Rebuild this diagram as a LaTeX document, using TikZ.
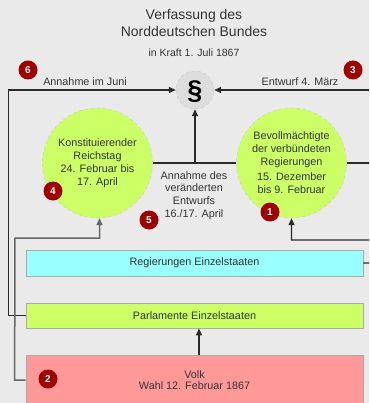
\documentclass[tikz,border=0pt]{standalone}
\usepackage{fontspec}
\setmainfont{Liberation Sans}
\usetikzlibrary{arrows.meta,calc}
\definecolor{bg}{HTML}{EAEAEA}
\definecolor{linec}{HTML}{2A2A2A}
\definecolor{linegray}{HTML}{666666}
\definecolor{txt}{HTML}{333333}
\definecolor{limec}{HTML}{CCFF66}
\definecolor{cyanc}{HTML}{99FFFF}
\definecolor{pinkc}{HTML}{FF9999}
\definecolor{parac}{HTML}{DDDDDD}
\definecolor{numred}{HTML}{A00000}
\definecolor{boxb}{HTML}{AAAAAA}
\begin{document}
\begin{tikzpicture}[x=1pt,y=-1pt,
  conn/.style={draw=linec, line width=1.3pt},
  arr/.style={conn, -{Triangle[length=7pt,width=6pt]}},
  organ/.style={circle, fill=limec, draw=gray!45, dashed, minimum size=110pt, inner sep=0pt,
    align=center, text=txt, font=\fontsize{10.8}{13}\selectfont},
  band/.style={rectangle, fill=#1, draw=boxb, line width=0.8pt, minimum width=337pt, inner sep=0pt,
    text=txt, align=center, font=\fontsize{10.8}{11.5}\selectfont},
  num/.style={circle, fill=numred, text=white, minimum size=19pt, inner sep=0pt,
    font=\fontsize{10}{10}\selectfont\bfseries},
  lbl/.style={text=txt, align=center, inner sep=0pt, font=\fontsize{10.8}{12.6}\selectfont}]
\path[use as bounding box, fill=bg] (0,0) rectangle (369,403);
\clip (0,0) rectangle (369,403);

% title
\node[lbl, anchor=base, font=\fontsize{14}{14}\selectfont] (t1) at (194,20) {Verfassung des};
\node[lbl, anchor=base, font=\fontsize{14}{14}\selectfont] (t2) at (194,37) {Norddeutschen Bundes};
\node[lbl, anchor=base, font=\fontsize{10.5}{10.5}\selectfont] (t3) at (194,56.5) {in Kraft 1. Juli 1867};

% paragraph circle
\node[circle, fill=parac, draw=gray!45, dashed, minimum size=38pt, inner sep=0pt] (para) at (195,90) {};
\node[inner sep=0pt, text=black, font=\fontsize{27}{27}\selectfont\bfseries, anchor=center] (parasym) at (195,92) {\S};

% organs
\node[organ] (rt) at (97.5,163) {Konstituierender\\Reichstag\\24. Februar bis\\17. April};
\node[organ] (bev) at (291.5,163) {Bevollmächtigte\\der verbündeten\\Regierungen\\[2pt]15. Dezember\\bis 9. Februar};
\node[lbl] (ann) at (194,195.5) {Annahme des\\veränderten\\Entwurfs\\16./17. April};

% bands
\node[band=cyanc, minimum height=26pt] (reg) at (194.5,263) {Regierungen Einzelstaaten};
\node[band=limec, minimum height=25pt] (parl) at (194.5,315.5) {Parlamente Einzelstaaten};
\node[band=pinkc, minimum height=50pt] (volk) at (194.5,380) {Volk\\Wahl 12. Februar 1867};

% labels on top line
\node[lbl, anchor=base] (lj) at (85,86) {Annahme im Juni};
\node[lbl, anchor=base] (lm) at (300,86) {Entwurf 4. März};

% connectors
\coordinate (ax) at (199,0);
\draw[arr] (ax |- volk.north) -- (ax |- parl.south);
\draw[arr] (parl.west) -- ++(-17,0) |- (para.west);
\draw[arr, draw=linegray, line width=1.5pt] (volk.west) -- ++(-11,0) -- (15,238) -- (99.5,238) -- ($(rt.south)+(2,0)$);
\draw[conn] (rt.east) -- (bev.west);
\draw[arr] (para.south |- rt.east) -- (para.south);
\draw[arr] (bev.east) -- ++(40,0) |- (para.east);
\draw[arr] (reg.east) -- ++(12,0) -- (375,240) -- (bev.south |- 0,240) -- (bev.south);

% numbers
\node[num] (n6) at (28,70) {6};
\node[num] (n3) at (353,70) {3};
\node[num] (n4) at (53,191) {4};
\node[num] (n5) at (149,220) {5};
\node[num] (n1) at (270,212) {1};
\node[num] (n2) at (48,379) {2};
\end{tikzpicture}
\end{document}
